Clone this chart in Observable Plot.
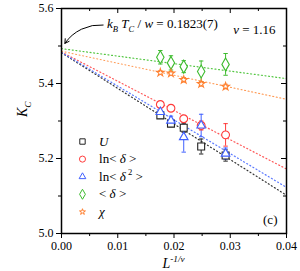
<!DOCTYPE html>
<html><head><meta charset="utf-8">
<script src="https://cdn.jsdelivr.net/npm/d3@7"></script>
<script src="https://cdn.jsdelivr.net/npm/@observablehq/plot@0.6"></script>
<style>body{margin:0;background:#fff} svg{display:block}</style>
</head><body><div id="chart"></div>
<script>
// ---- data ----
const xValues = [0.01757, 0.01946, 0.02173, 0.02483, 0.02917];
const seriesNames = ["U", "ln<δ>", "ln<δ²>", "<δ>", "χ"];
const seriesColors = ["#222222", "#ff3b3b", "#4060ff", "#3dbb2e", "#ff8030"];
const lineColors = ["#333333", "#ff5a5a", "#5a78ff", "#55c744", "#ff9a55"];
const seriesSymbols = ["square", "circle", "triangle", "diamond", "star"];
const symbolRadius = [3.9, 3.9, 3.2, 3.9, 2.4];
const valU    = [5.315, 5.293, 5.282, 5.232, 5.208];
const errU    = [0.008, 0.008, 0.012, 0.020, 0.015];
const valLnD  = [5.344, 5.334, 5.306, 5.288, 5.263];
const errLnD  = [0.008, 0.008, 0.008, 0.012, 0.030];
const valLnD2 = [5.324, 5.301, 5.257, 5.288, 5.213];
const errLnD2 = [0.015, 0.012, 0.040, 0.030, 0.015];
const valD    = [5.470, 5.455, 5.445, 5.432, 5.451];
const errD    = [0.018, 0.019, 0.016, 0.028, 0.029];
const valChi  = [5.429, 5.427, 5.410, 5.399, 5.392];
const errChi  = [0.005, 0.005, 0.006, 0.006, 0.006];
const fitIntercepts = [5.482, 5.484, 5.483, 5.493, 5.486];
const fitSlopes     = [-9.5, -7.8, -9.0, -2.0, -3.2];
const xTicks = [0, 0.01, 0.02, 0.03, 0.04];
const xMinor = [0.005, 0.015, 0.025, 0.035];
const yTicks = [5.0, 5.2, 5.4, 5.6];
const yMinor = [5.1, 5.3, 5.5];
const xDomain = [0, 0.04];
const yDomain = [5.0, 5.6];

const allVals = [valU, valLnD, valLnD2, valD, valChi];
const allErrs = [errU, errLnD, errLnD2, errD, errChi];
const points = [];
seriesNames.forEach((s, i) => xValues.forEach((x, j) =>
  points.push({series: s, k: i, x, y: allVals[i][j], e: allErrs[i][j]})));
const fits = [];
seriesNames.forEach((s, i) => xDomain.forEach(x =>
  fits.push({series: s, x, y: fitIntercepts[i] + fitSlopes[i] * x})));
const legendRows = seriesNames.map((s, i) => ({series: s, k: i}));
const legendX = 0.00373, legendTop = 5.2453, legendStep = 0.0469;

const capSymbol = {draw(ctx, size) { const r = Math.sqrt(size / Math.PI); ctx.moveTo(-r, 0); ctx.lineTo(r, 0); }};

const W = 300, H = 271, mL = 61, mR = 14, mT = 8, mB = 38;
const pw = W - mL - mR, ph = H - mT - mB;

const dotMarks = [];
seriesNames.forEach((s, i) => {
  dotMarks.push(Plot.dot(points.filter(d => d.k === i), {x: "x", y: "y", symbol: "series", stroke: "series", fill: "white", r: symbolRadius[i], strokeWidth: 1.1}));
  dotMarks.push(Plot.dot(legendRows.filter(d => d.k === i), {x: () => legendX, y: d => legendTop - d.k * legendStep, symbol: "series", stroke: "series", fill: "white", r: symbolRadius[i] * 0.78, strokeWidth: 1}));
});

const chart = Plot.plot({
  width: W, height: H,
  marginLeft: mL, marginRight: mR, marginTop: mT, marginBottom: mB,
  style: {fontFamily: "Liberation Serif", fontSize: "12px", background: "white", color: "black"},
  x: {domain: xDomain},
  y: {domain: yDomain},
  color: {domain: seriesNames, range: seriesColors},
  symbol: {domain: seriesNames, range: seriesSymbols},
  marks: [
    Plot.line(fits, {x: "x", y: "y", z: "series", stroke: d => lineColors[seriesNames.indexOf(d.series)], strokeWidth: 1.2, strokeDasharray: "1,2.6", clip: true}),
    Plot.ruleX(points, {x: "x", y1: d => d.y - d.e, y2: d => d.y + d.e, stroke: "series", strokeWidth: 1}),
    Plot.dot(points, {x: "x", y: d => d.y - d.e, symbol: () => capSymbol, r: 2.2, stroke: "series", strokeWidth: 1}),
    Plot.dot(points, {x: "x", y: d => d.y + d.e, symbol: () => capSymbol, r: 2.2, stroke: "series", strokeWidth: 1}),
    ...dotMarks,
    Plot.arrow([{x1: 0.0074, y1: 5.556, x2: 0.0006, y2: 5.507}], {x1: "x1", y1: "y1", x2: "x2", y2: "y2", bend: -30, stroke: "black", strokeWidth: 1, headLength: 7}),
    Plot.axisX(xTicks, {tickSize: 5, tickFormat: d3.format(".2f"), tickPadding: 3, fontSize: 12, label: null}),
    Plot.axisX(xMinor, {tickSize: 3, tickFormat: () => "", label: null}),
    Plot.axisY(yTicks, {tickSize: 5, tickFormat: d3.format(".1f"), tickPadding: 3, fontSize: 12, label: null}),
    Plot.axisY(yMinor, {tickSize: 3, tickFormat: () => "", label: null}),
    Plot.tickX(xTicks, {x: d => d, insetBottom: ph - 5, stroke: "black"}),
    Plot.tickX(xMinor, {x: d => d, insetBottom: ph - 3, stroke: "black"}),
    Plot.tickY(yTicks, {y: d => d, insetLeft: pw - 5, stroke: "black"}),
    Plot.tickY(yMinor, {y: d => d, insetLeft: pw - 3, stroke: "black"}),
    Plot.frame({stroke: "black", strokeWidth: 1.5})
  ]
});
document.getElementById("chart").appendChild(chart);

const sx = chart.scale("x").apply, sy = chart.scale("y").apply;
const svg = d3.select(chart);
function rich(x, y, parts, size, anchor = "start", rotate = null) {
  const t = svg.append("text").attr("x", x).attr("y", y).attr("font-size", size)
    .attr("font-family", "Liberation Serif").attr("text-anchor", anchor).attr("fill", "black");
  if (rotate !== null) t.attr("transform", `rotate(${rotate},${x},${y})`);
  let shift = 0;
  for (const p of parts) {
    const target = p.sub ? size * 0.3 : p.sup ? -size * 0.4 : 0;
    const s = t.append("tspan").text(p.t).attr("dy", target - shift);
    if (p.sub || p.sup) s.attr("font-size", size * 0.66);
    if (p.i) s.attr("font-style", "italic");
    shift = target;
  }
  return t;
}
// annotations
rich(sx(0.00818), sy(5.5467), [{t: "k", i: true}, {t: "B", sub: true, i: true}, {t: " T", i: true}, {t: "C", sub: true, i: true}, {t: " / "}, {t: "w", i: true}, {t: " = 0.1823(7)"}], 13);
rich(sx(0.0306), sy(5.5307), [{t: "ν", i: true}, {t: " = 1.16"}], 13);
rich(sx(0.0372), sy(5.024), [{t: "(c)"}], 13, "middle");
// legend labels
const legendLabels = [
  [{t: "U", i: true}],
  [{t: "ln< "}, {t: "δ", i: true}, {t: " >"}],
  [{t: "ln< "}, {t: "δ", i: true}, {t: " 2", sup: true}, {t: " >"}],
  [{t: "< "}, {t: "δ", i: true}, {t: " >"}],
  [{t: "χ", i: true}]
];
legendLabels.forEach((parts, i) => rich(sx(0.00676), sy(legendTop - i * legendStep) + 4.5, parts, 13));
// axis labels
rich(sx(0) - 34, sy(5.33), [{t: "K", i: true}, {t: "C", sub: true, i: true}], 14, "middle", -90);
rich(sx(0.02), H - 3, [{t: "L", i: true}, {t: "-1/ν", sup: true, i: true}], 14, "middle");
</script></body></html>
